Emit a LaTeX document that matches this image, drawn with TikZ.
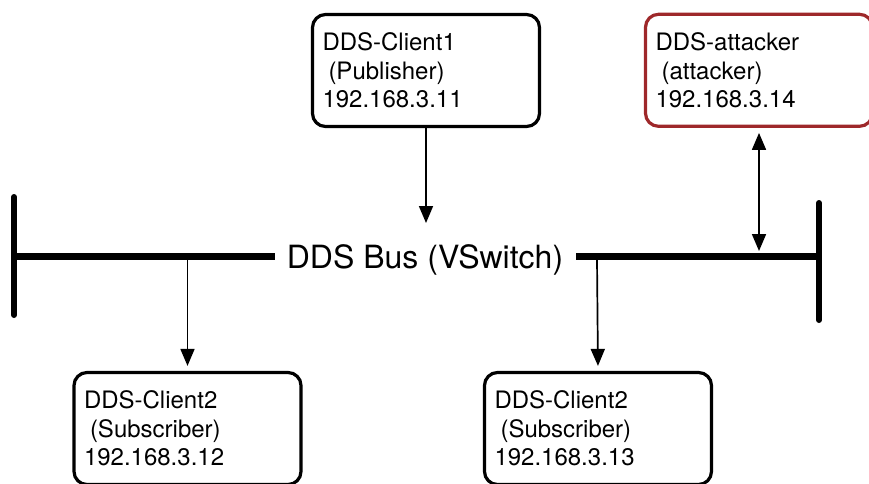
\documentclass[tikz,border=0pt]{standalone}
\usepackage{fontspec}
\setmainfont{TeX Gyre Heros}
\usetikzlibrary{arrows.meta}
\definecolor{attred}{RGB}{158,40,42}
\begin{document}
\begin{tikzpicture}[x=1pt,y=-1pt,
  hostbox/.style={draw, line width=3.2pt, rounded corners=13pt, minimum height=112pt,
    text width=207pt, inner xsep=10pt, align=left,
    font=\fontsize{24}{28.5}\selectfont, anchor=center},
  link/.style={line width=1.7pt, -{Triangle[length=17pt,width=14pt]}},
  duallink/.style={line width=1.7pt, {Triangle[length=17pt,width=14pt]}-{Triangle[length=17pt,width=14pt]}},
  busline/.style={line width=7pt},
  busend/.style={line width=6pt, line cap=round},
  buslabel/.style={font=\fontsize{32}{36}\selectfont, anchor=base, inner sep=0pt}]
\useasboundingbox (0,0) rectangle (869,483);
\clip (0,0) rectangle (869,483);

% hosts
\node[hostbox] (pub) at (426,70.5) {DDS-Client1\\\hspace*{0.25em}(Publisher)\\192.168.3.11};
\node[hostbox, draw=attred] (att) at (759,70.3) {DDS-attacker\\\hspace*{0.25em}(attacker)\\192.168.3.14};
\node[hostbox] (sub1) at (187.5,428.5) {DDS-Client2\\\hspace*{0.25em}(Subscriber)\\192.168.3.12};
\node[hostbox] (sub2) at (598,428.5) {DDS-Client2\\\hspace*{0.25em}(Subscriber)\\192.168.3.13};

% bus
\node[buslabel] (bus) at (425,268) {DDS Bus (VSwitch)};
\coordinate (lbarT) at (14,197);
\coordinate (lbarB) at (14,315);
\coordinate (rbarT) at (819,203);
\coordinate (rbarB) at (819,320);
\coordinate (busL) at (14,256);
\coordinate (busLend) at (275,256);
\coordinate (busRstart) at (576,256);
\coordinate (busR) at (819,256);
\draw[busend] (lbarT) -- (lbarB);
\draw[busend] (rbarT) -- (rbarB);
\draw[busline] (busL) -- (busLend);
\draw[busline] (busRstart) -- (busR);

% connectors
\coordinate (pubhit) at (426,223);
\coordinate (tapL) at (187.5,259);
\coordinate (tapR) at (597,259);
\coordinate (tapA) at (759,251);
\draw[link] (pub.south) -- (pubhit);
\draw[link, shorten >=5pt] (tapL) -- (sub1.north);
\draw[link, shorten >=5pt] (tapR) -- (sub2.north);
\draw[duallink, shorten <=5pt] (att.south) -- (tapA);
\end{tikzpicture}
\end{document}
